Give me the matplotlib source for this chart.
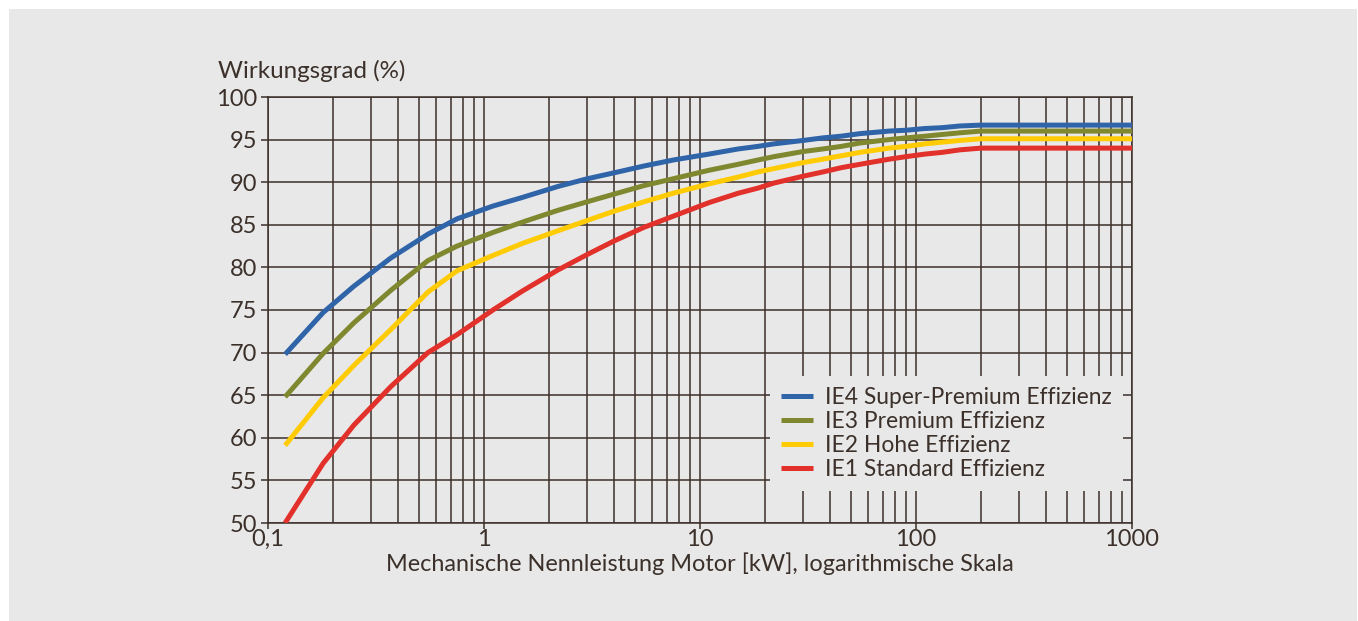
import matplotlib
matplotlib.use("Agg")
import matplotlib.pyplot as plt
from matplotlib.patches import Rectangle
from matplotlib.ticker import FixedLocator, NullFormatter
import numpy as np

# Nennleistung in kW
kw = [0.12, 0.18, 0.25, 0.37, 0.55, 0.75, 1.1, 1.5, 2.2, 3, 4, 5.5, 7.5, 11, 15,
      18.5, 22, 30, 37, 45, 55, 75, 90, 110, 132, 160, 200, 1000]

ie4 = [69.8, 74.7, 77.8, 81.1, 83.9, 85.7, 87.2, 88.2, 89.5, 90.4, 91.1, 91.9, 92.6, 93.3,
       93.9, 94.2, 94.5, 94.9, 95.2, 95.4, 95.7, 96.0, 96.1, 96.3, 96.4, 96.6, 96.7, 96.7]
ie3 = [64.8, 69.9, 73.5, 77.3, 80.8, 82.5, 84.1, 85.3, 86.7, 87.7, 88.6, 89.6, 90.4, 91.4,
       92.1, 92.6, 93.0, 93.6, 93.9, 94.2, 94.6, 95.0, 95.2, 95.4, 95.6, 95.8, 96.0, 96.0]
ie2 = [59.1, 64.7, 68.5, 72.7, 77.1, 79.6, 81.4, 82.8, 84.3, 85.5, 86.6, 87.7, 88.7, 89.8,
       90.6, 91.2, 91.6, 92.3, 92.7, 93.1, 93.5, 94.0, 94.2, 94.5, 94.7, 94.9, 95.1, 95.1]
ie1 = [50.0, 57.0, 61.5, 66.0, 70.0, 72.1, 75.0, 77.2, 79.7, 81.5, 83.1, 84.7, 86.0, 87.6,
       88.7, 89.3, 89.9, 90.7, 91.2, 91.7, 92.1, 92.7, 93.0, 93.3, 93.5, 93.8, 94.0, 94.0]

labels = ["IE4 Super-Premium Effizienz", "IE3 Premium Effizienz",
          "IE2 Hohe Effizienz", "IE1 Standard Effizienz"]
colors = ["#2f64a8", "#7f882f", "#ffcb05", "#e2302a"]

x_ticks = [0.1, 1, 10, 100, 1000]
x_ticklabels = ["0,1", "1", "10", "100", "1000"]
y_ticks = list(range(50, 101, 5))

bg = "#e8e8e8"
ink = "#3b302a"
fs = 17.0
plt.rcParams['font.family'] = ['Lato', 'DejaVu Sans']

W, H = 1358, 621
fig = plt.figure(figsize=(W / 100, H / 100), dpi=100, facecolor="white")
fig.patches.append(Rectangle((9 / W, 0), (W - 10) / W, (H - 9) / H,
                             transform=fig.transFigure, facecolor=bg,
                             edgecolor="none", zorder=-5))

ax = fig.add_axes([268 / W, (H - 523) / H, (1132 - 268) / W, (523 - 97) / H])
ax.set_facecolor(bg)

for y, lab, c in zip([ie4, ie3, ie2, ie1], labels, colors):
    ax.plot(kw, y, color=c, lw=3.6, label=lab, solid_capstyle="butt", zorder=3)

ax.set_xscale("log")
ax.set_xlim(0.1, 1000)
ax.set_ylim(50, 100)
ax.xaxis.set_major_locator(FixedLocator(x_ticks))
ax.set_xticklabels(x_ticklabels)
minor = [m * d for d in [0.1, 1, 10, 100] for m in range(2, 10)]
ax.xaxis.set_minor_locator(FixedLocator(minor))
ax.xaxis.set_minor_formatter(NullFormatter())
ax.set_yticks(y_ticks)

ax.grid(True, which="major", color=ink, lw=1.1)
ax.grid(True, which="minor", axis="x", color=ink, lw=1.1)
ax.set_axisbelow(True)
for s in ax.spines.values():
    s.set_color(ink)
    s.set_linewidth(1.1)

ax.tick_params(axis="y", which="major", length=5, width=1.1, color=ink,
               labelcolor=ink, labelsize=fs, pad=3)
ax.tick_params(axis="x", which="major", length=4, width=1.1, color=ink,
               labelcolor=ink, labelsize=fs, pad=0)
ax.tick_params(axis="x", which="minor", length=0)

ax.set_xlabel("Mechanische Nennleistung Motor [kW], logarithmische Skala",
              color=ink, fontsize=16.9, labelpad=2)
fig.text(218 / W, 1 - 71 / H, "Wirkungsgrad (%)", color=ink, fontsize=17.4,
         ha="left", va="center")

leg = ax.legend(loc="upper left", bbox_to_anchor=((770 - 268) / (1132 - 268), (523 - 376) / (523 - 97)),
                frameon=True, fancybox=False, facecolor=bg, edgecolor="none", framealpha=1,
                fontsize=16.4, handlelength=1.4, handletextpad=0.5, labelspacing=0.12,
                borderpad=0.5, borderaxespad=0)
for t in leg.get_texts():
    t.set_color(ink)

fig.savefig("out.png", dpi=100, facecolor="white")
